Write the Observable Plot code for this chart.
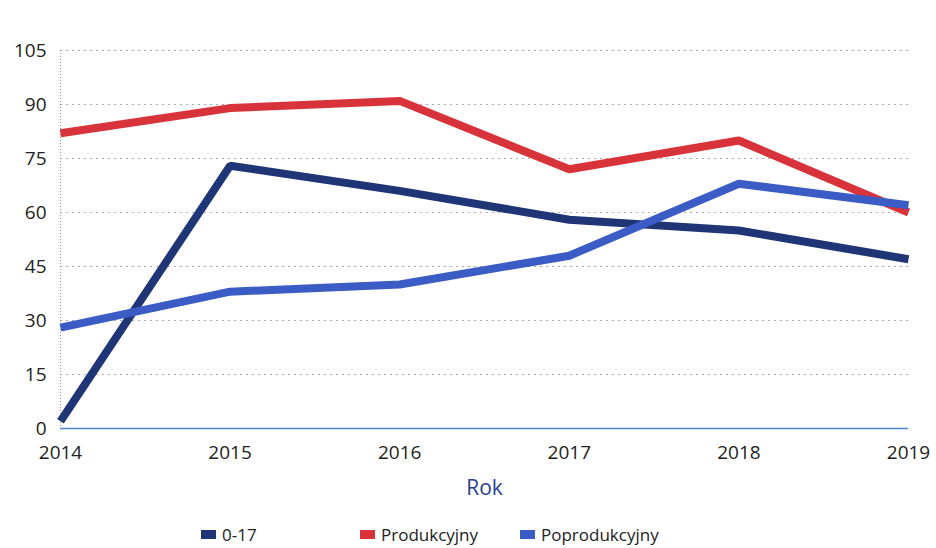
<!DOCTYPE html>
<html>
<head>
<meta charset="utf-8">
<script src="https://cdn.jsdelivr.net/npm/d3@7"></script>
<script src="https://cdn.jsdelivr.net/npm/@observablehq/plot@0.6"></script>
<style>
  html, body { margin: 0; padding: 0; background: #fff; }
  #wrap { position: relative; width: 936px; height: 548px; font-family: "Open Sans", "Liberation Sans", sans-serif; }
  #legend { position: absolute; top: 523px; left: 0; width: 936px; height: 24px; font-size: 17px; color: #222; }
  .item { position: absolute; display: flex; align-items: center; gap: 6px; }
  .sw { width: 15px; height: 9px; display: inline-block; }
</style>
</head>
<body>
<div id="wrap">
  <div id="chart"></div>
  <div id="legend"></div>
</div>
<script>
const years = [2014, 2015, 2016, 2017, 2018, 2019];
const seriesNames = ["0-17", "Produkcyjny", "Poprodukcyjny"];
const age0_17 = [2, 73, 66, 58, 55, 47];
const produkcyjny = [82, 89, 91, 72, 80, 60];
const poprodukcyjny = [28, 38, 40, 48, 68, 62];
const yTicks = [0, 15, 30, 45, 60, 75, 90, 105];
const colors = ["#1f3575", "#d8323a", "#3a5cc4"];

const seriesValues = [age0_17, produkcyjny, poprodukcyjny];
const rows = [];
seriesNames.forEach((s, i) => years.forEach((y, j) => rows.push({year: y, value: seriesValues[i][j], series: s})));

const chart = Plot.plot({
  width: 936,
  height: 512,
  marginLeft: 60,
  marginRight: 28,
  marginTop: 50,
  marginBottom: 84,
  style: {fontFamily: "'Open Sans', 'Liberation Sans', sans-serif", fontSize: "18px", color: "#222", background: "#fff"},
  x: {domain: [2014, 2019], ticks: years, tickFormat: d => String(d), label: "Rok", labelAnchor: "center", labelOffset: 66, labelArrow: "none"},
  y: {domain: [0, 105], ticks: yTicks, label: null},
  color: {domain: seriesNames, range: colors},
  marks: [
    Plot.gridY(yTicks.filter(d => d > 0), {stroke: "#888", strokeOpacity: 0.7, strokeDasharray: "2,4"}),
    Plot.ruleX([2014], {stroke: "#888", strokeDasharray: "1,2", strokeOpacity: 0.9}),
    Plot.ruleY([0], {stroke: "#4a86d8", strokeWidth: 1.5}),
    Plot.axisX({ticks: years, tickFormat: d => String(d), tickSize: 0, tickPadding: 17, label: "Rok", labelAnchor: "center", labelOffset: 66, labelArrow: "none", fill: "#222", fontSize: 19}),
    Plot.axisY({ticks: yTicks, tickSize: 0, tickPadding: 14, label: null, fill: "#222", fontSize: 19}),
    Plot.line(rows, {x: "year", y: "value", z: "series", stroke: "series", strokeWidth: 8, strokeLinejoin: "miter", strokeLinecap: "butt"})
  ]
});
document.getElementById("chart").appendChild(chart);

// style axis label "Rok"
chart.querySelectorAll('[aria-label="x-axis label"]').forEach(el => {
  el.setAttribute("fill", "#2a3f8f");
  el.setAttribute("font-size", "21");
  el.querySelectorAll("text").forEach(t => { t.setAttribute("fill", "#2a3f8f"); t.setAttribute("font-size", "21"); });
});

// legend
const legendX = [201, 360, 520];
const legend = document.getElementById("legend");
seriesNames.forEach((s, i) => {
  const it = document.createElement("div");
  it.className = "item";
  it.style.left = legendX[i] + "px";
  const sw = document.createElement("span");
  sw.className = "sw";
  sw.style.background = colors[i];
  const t = document.createElement("span");
  t.textContent = s;
  it.appendChild(sw); it.appendChild(t);
  legend.appendChild(it);
});
</script>
</body>
</html>
